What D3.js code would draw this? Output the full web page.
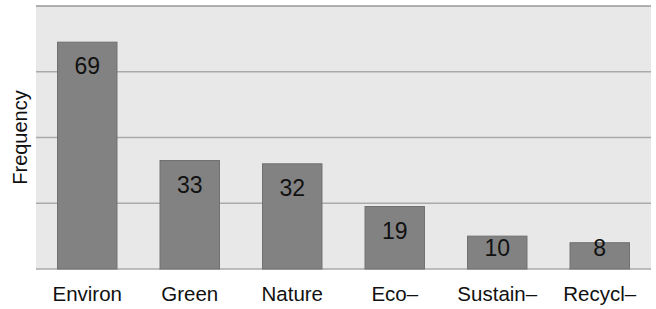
<!DOCTYPE html>
<html>
<head>
<meta charset="utf-8">
<script src="https://cdn.jsdelivr.net/npm/d3@7"></script>
<style>
  body { margin: 0; background: #fff; }
  text { font-family: "Liberation Sans", Arial, sans-serif; fill: #111; }
</style>
</head>
<body>
<script>
// dati del grafico
var categories = ["Environ", "Green", "Nature", "Eco\u2013", "Sustain\u2013", "Recycl\u2013"];
var values = [69, 33, 32, 19, 10, 8];
var yTicks = [0, 20, 40, 60, 80];

var w = 656, h = 309;
var m = {top: 6, right: 5, bottom: 40, left: 36};

var svg = d3.select("body").append("svg")
    .attr("width", w)
    .attr("height", h);

var x = d3.scaleBand()
    .domain(categories)
    .range([m.left, w - m.right])
    .paddingInner(0.42)
    .paddingOuter(0.21);

var y = d3.scaleLinear()
    .domain([0, 80])
    .range([h - m.bottom, m.top]);

// sfondo area del grafico
svg.append("rect")
    .attr("x", m.left)
    .attr("y", m.top)
    .attr("width", w - m.right - m.left)
    .attr("height", y(0) - m.top)
    .attr("fill", "#e8e8e8");

// griglia
svg.selectAll(".grid")
    .data(yTicks)
    .enter().append("line")
    .attr("x1", m.left)
    .attr("x2", w - m.right)
    .attr("y1", d => y(d))
    .attr("y2", d => y(d))
    .attr("stroke", d => d == 80 ? "#999" : "#aaa")
    .attr("stroke-width", 1.5);

// barre
svg.selectAll(".bar")
    .data(values)
    .enter().append("rect")
    .attr("x", (d, i) => x(categories[i]))
    .attr("y", d => y(d))
    .attr("width", x.bandwidth())
    .attr("height", d => y(0) - y(d))
    .attr("fill", "#828282")
    .attr("stroke", "#707070")
    .attr("stroke-width", 1);

// etichette dei valori (le barre basse hanno l'etichetta fissata in basso)
svg.selectAll(".val")
    .data(values)
    .enter().append("text")
    .attr("x", (d, i) => x(categories[i]) + x.bandwidth() / 2)
    .attr("y", d => Math.min(y(d) + 32, y(0) - 13))
    .attr("text-anchor", "middle")
    .attr("font-size", 23)
    .text(d => d);

// etichette delle categorie
svg.selectAll(".cat")
    .data(categories)
    .enter().append("text")
    .attr("x", d => x(d) + x.bandwidth() / 2)
    .attr("y", 301)
    .attr("text-anchor", "middle")
    .attr("font-size", 20.5)
    .text(d => d);

// titolo asse y
svg.append("text")
    .attr("transform", "translate(27," + ((m.top + y(0)) / 2) + ") rotate(-90)")
    .attr("text-anchor", "middle")
    .attr("font-size", 20)
    .text("Frequency");
</script>
</body>
</html>
